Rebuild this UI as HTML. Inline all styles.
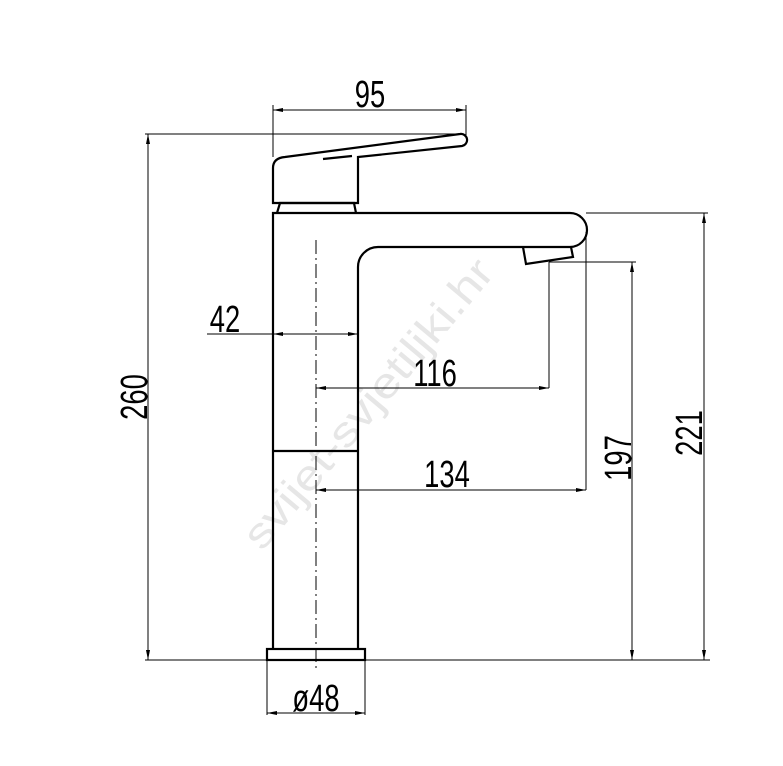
<!DOCTYPE html>
<html><head><style>body{margin:0;background:#fff}svg{display:block}</style></head><body>
<svg width="783" height="766" viewBox="0 0 783 766" xmlns="http://www.w3.org/2000/svg">
<defs><marker id="a" viewBox="0 0 10 4" refX="10" refY="2" markerWidth="10" markerHeight="4" orient="auto-start-reverse" markerUnits="userSpaceOnUse"><path d="M0,0 L10,2 L0,4 z" fill="#000"/></marker></defs>
<text transform="translate(262,552) rotate(-50) scale(1.2,1)" font-family="Liberation Sans, sans-serif" font-size="42" fill="#e6e6e6">svijet-svjetiljki.hr</text>
<g fill="none" stroke="#000" stroke-width="2.2">
<path d="M273,649 V213 H570 A17,17 0 0 1 570,247 H378 A20,20 0 0 0 358,267 V649"/>
<path d="M523,247 L526,264 L573,257 L571,247"/>
<line x1="273" y1="451" x2="358" y2="451"/>
<rect x="267" y="649" width="98" height="11"/>
<path d="M277,213 L280,203 H354 L356,213"/>
<path d="M273,203 V168 Q273,158 285,157 L460,134 A6,6 0 0 1 462,146 L358,157 V203 Z"/>
<line x1="323" y1="159" x2="352" y2="156"/>
</g>
<line x1="316" y1="240" x2="316" y2="668" stroke="#000" stroke-width="1" stroke-dasharray="14,4,2,4"/>
<g stroke="#000" stroke-width="1" fill="none">
<line x1="273" y1="105" x2="273" y2="157"/><line x1="466" y1="105" x2="466" y2="135"/>
<line x1="273" y1="110" x2="466" y2="110" marker-start="url(#a)" marker-end="url(#a)"/>
<line x1="145" y1="134" x2="462" y2="134"/><line x1="145" y1="660" x2="710" y2="660"/>
<line x1="148" y1="134" x2="148" y2="660" marker-start="url(#a)" marker-end="url(#a)"/>
<line x1="207" y1="334" x2="273" y2="334"/>
<line x1="273" y1="334" x2="358" y2="334" marker-start="url(#a)" marker-end="url(#a)"/>
<line x1="549" y1="262" x2="549" y2="388"/>
<line x1="316" y1="388" x2="549" y2="388" marker-start="url(#a)" marker-end="url(#a)"/>
<line x1="586" y1="232" x2="586" y2="490"/>
<line x1="316" y1="490" x2="586" y2="490" marker-start="url(#a)" marker-end="url(#a)"/>
<line x1="549" y1="262" x2="636" y2="262"/>
<line x1="632" y1="262" x2="632" y2="660" marker-start="url(#a)" marker-end="url(#a)"/>
<line x1="586" y1="213" x2="708" y2="213"/>
<line x1="704" y1="213" x2="704" y2="660" marker-start="url(#a)" marker-end="url(#a)"/>
<line x1="267" y1="660" x2="267" y2="715"/><line x1="365" y1="660" x2="365" y2="715"/>
<line x1="267" y1="713" x2="365" y2="713" marker-start="url(#a)" marker-end="url(#a)"/>
</g>
<g font-family="Liberation Sans, sans-serif" font-size="38" fill="#000" text-anchor="middle">
<text transform="translate(370,107) scale(0.72,1)">95</text>
<text transform="translate(225,332) scale(0.72,1)">42</text>
<text transform="translate(435,386) scale(0.72,1)">116</text>
<text transform="translate(447,487) scale(0.72,1)">134</text>
<text transform="translate(316,711) scale(0.72,1)">ø48</text>
<text transform="translate(147,397) rotate(-90) scale(0.72,1)">260</text>
<text transform="translate(631,458) rotate(-90) scale(0.72,1)">197</text>
<text transform="translate(702,433) rotate(-90) scale(0.72,1)">221</text>
</g>
</svg>
</body></html>
